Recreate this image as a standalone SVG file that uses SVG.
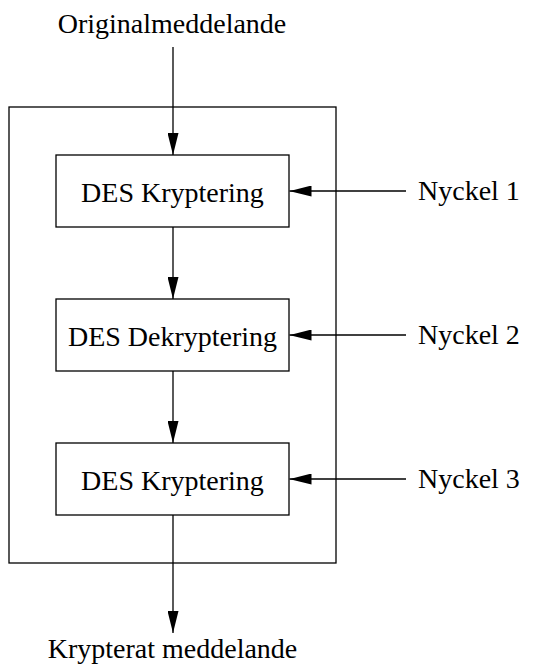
<svg xmlns="http://www.w3.org/2000/svg" width="537" height="664" viewBox="0 0 537 664">
  <style>
    .box { fill: #ffffff; stroke: #000000; stroke-width: 1.3; }
    .wire { fill: none; stroke: #000000; stroke-width: 1.3; }
    text { font-family: "Liberation Serif", "Times New Roman", serif; font-size: 28px; fill: #000000; }
    .mid { text-anchor: middle; }
  </style>
  <defs>
    <marker id="head" markerWidth="22" markerHeight="11" refX="22" refY="5.5" orient="auto" markerUnits="userSpaceOnUse">
      <path d="M0,0 L22,5.5 L0,11 Z" fill="#000000"/>
    </marker>
  </defs>

  <rect width="537" height="664" fill="#ffffff"/>

  <!-- enclosing 3DES block -->
  <g id="frame">
    <rect class="box" x="9" y="107" width="327" height="456" fill="none"/>
  </g>

  <g id="connectors">
    <line class="wire" x1="173" y1="47" x2="173" y2="155" marker-end="url(#head)"/>
    <line class="wire" x1="173" y1="227" x2="173" y2="299" marker-end="url(#head)"/>
    <line class="wire" x1="173" y1="371" x2="173" y2="443" marker-end="url(#head)"/>
    <line class="wire" x1="173" y1="515" x2="173" y2="633" marker-end="url(#head)"/>
    <line class="wire" x1="406" y1="191" x2="289.5" y2="191" marker-end="url(#head)"/>
    <line class="wire" x1="406" y1="335" x2="289.5" y2="335" marker-end="url(#head)"/>
    <line class="wire" x1="406" y1="479" x2="289.5" y2="479" marker-end="url(#head)"/>
  </g>

  <g id="input">
    <text class="mid" x="172" y="33">Originalmeddelande</text>
  </g>

  <g id="stage1">
    <rect class="box" x="56" y="155" width="233" height="72"/>
    <text class="mid" x="172.5" y="202">DES Kryptering</text>
  </g>

  <g id="stage2">
    <rect class="box" x="56" y="299" width="233" height="72"/>
    <text class="mid" x="172.5" y="346">DES Dekryptering</text>
  </g>

  <g id="stage3">
    <rect class="box" x="56" y="443" width="233" height="72"/>
    <text class="mid" x="172.5" y="490">DES Kryptering</text>
  </g>

  <g id="key1"><text x="418" y="200">Nyckel 1</text></g>
  <g id="key2"><text x="418" y="344">Nyckel 2</text></g>
  <g id="key3"><text x="418" y="488">Nyckel 3</text></g>

  <g id="output">
    <text class="mid" x="172.5" y="658">Krypterat meddelande</text>
  </g>
</svg>
